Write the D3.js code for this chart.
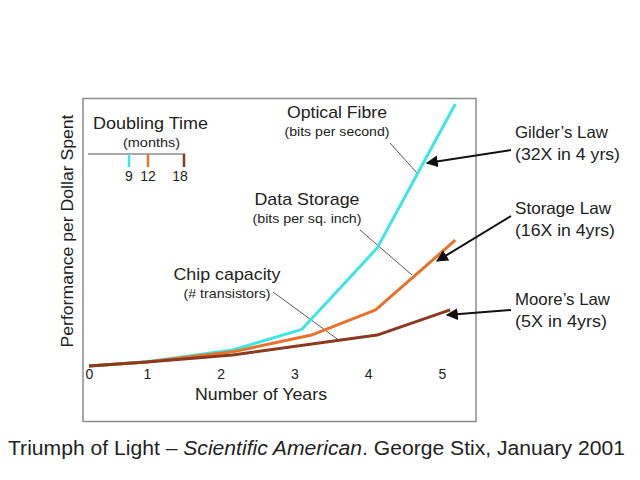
<!DOCTYPE html>
<html><head><meta charset="utf-8">
<script src="https://cdn.jsdelivr.net/npm/d3@7"></script>
<style>body{margin:0;background:#fff}svg{display:block}text{font-family:"Liberation Sans",Arial,sans-serif;fill:#222}</style>
</head><body><svg id="c" width="640" height="480"></svg>
<script>
// ---- data ----
const years = [0, 1, 2, 3, 4, 5];
const tickLabels = ["0", "1", "2", "3", "4", "5"];
const opticalX = [0, 1, 2.16, 3.1, 4.12, 5.18];
const opticalY = [0, 1.6, 6.1, 14, 45, 100];
const storageX = [0, 1, 2.16, 3.23, 4.1, 5.18];
const storageY = [0, 1.5, 5.4, 11.8, 21.4, 48];
const chipX = [0, 1, 2.16, 4.12, 5.11];
const chipY = [0, 1.5, 4.2, 11.8, 21.4];
const doublingMonths = [9, 12, 18];
const seriesNames = ["Optical Fibre", "Data Storage", "Chip capacity"];
const seriesUnits = ["(bits per second)", "(bits per sq. inch)", "(# transistors)"];
const lawNames = ["Gilder\u2019s Law", "Storage Law", "Moore\u2019s Law"];
const lawRates = ["(32X in 4 yrs)", "(16X in 4yrs)", "(5X in 4yrs)"];
const colors = ["#3de6e6", "#e8722a", "#8a3a1e"];

const svg = d3.select("#c");
const x = d3.scaleLinear().domain([0, 1, 5]).range([89, 147, 442]);
const y = d3.scaleLinear().domain([0, 100]).range([366, 104]);

function txt(xx, yy, s, size, len, anchor, fill) {
  const t = svg.append("text").attr("x", xx).attr("y", yy).attr("font-size", size)
    .attr("text-anchor", anchor || "start").text(s);
  if (len) t.attr("textLength", len).attr("lengthAdjust", "spacingAndGlyphs");
  if (fill) t.attr("fill", fill);
  return t;
}

// frame
svg.append("rect").attr("x", 83).attr("y", 98.5).attr("width", 393).attr("height", 323)
  .attr("fill", "none").attr("stroke", "#8c8c8c").attr("stroke-width", 1.5);

// x tick labels via axis
const ax = svg.append("g").attr("transform", "translate(0,366)")
  .call(d3.axisBottom(x).tickValues(years).tickFormat((d, i) => tickLabels[i]).tickSize(0).tickPadding(0));
ax.select(".domain").remove();
ax.selectAll("text").attr("font-size", 14).attr("fill", "#2a2a2a").attr("dy", "0.95em")
  .attr("font-family", "Liberation Sans, Arial, sans-serif");

txt(261, 400, "Number of Years", 17, 132, "middle");
svg.append("text").attr("transform", "translate(73,231) rotate(-90)").attr("text-anchor", "middle")
  .attr("font-size", 17).attr("textLength", 233).attr("lengthAdjust", "spacingAndGlyphs").text("Performance per Dollar Spent");

// leader lines for series labels
const leaders = [[390, 143, 417, 173], [360, 230, 412, 275], [273, 292, 340, 341]];
svg.selectAll(".leader").data(leaders).join("line")
  .attr("x1", d => d[0]).attr("y1", d => d[1]).attr("x2", d => d[2]).attr("y2", d => d[3])
  .attr("stroke", "#444").attr("stroke-width", 0.9);

// series lines
const series = [
  opticalX.map((v, i) => [v, opticalY[i]]),
  storageX.map((v, i) => [v, storageY[i]]),
  chipX.map((v, i) => [v, chipY[i]])
];
const line = d3.line().x(d => x(d[0])).y(d => y(d[1]));
[0, 1, 2].forEach(i => {
  svg.append("path").attr("d", line(series[i])).attr("fill", "none")
    .attr("stroke", colors[i]).attr("stroke-width", 3).attr("stroke-linejoin", "round");
});

// series labels
const labPos = [[337, 118], [307, 205], [227, 280]];
const nameLen = [100, 105, 107];
const unitLen = [105, 109, 87];
labPos.forEach((p, i) => {
  txt(p[0], p[1], seriesNames[i], 17, nameLen[i], "middle");
  txt(p[0], p[1] + 18, seriesUnits[i], 13, unitLen[i], "middle", "#333");
});

// doubling time legend
txt(150.5, 129, "Doubling Time", 17, 115, "middle");
txt(151.5, 147, "(months)", 13, 57, "middle", "#333");
const dScale = d3.scaleLinear().domain([9, 12, 18]).range([129, 148, 184]);
svg.append("line").attr("x1", 88).attr("x2", 185).attr("y1", 154).attr("y2", 154).attr("stroke", "#555").attr("stroke-width", 1);
doublingMonths.forEach((m, i) => {
  svg.append("line").attr("x1", dScale(m)).attr("x2", dScale(m)).attr("y1", 154).attr("y2", 167)
    .attr("stroke", colors[i]).attr("stroke-width", 2.5);
  txt(dScale(m) - (i === 2 ? 4 : 0), 181, String(m), 14, null, "middle");
});

// arrows
svg.append("defs").append("marker").attr("id", "ah").attr("viewBox", "0 0 10 10").attr("refX", 9).attr("refY", 5)
  .attr("markerWidth", 6).attr("markerHeight", 6).attr("orient", "auto")
  .append("path").attr("d", "M0,0 L10,5 L0,10 z").attr("fill", "#111");
const arrows = [[511, 150, 427, 163], [511, 216, 437, 261], [511, 310, 447, 315]];
arrows.forEach(a => {
  svg.append("line").attr("x1", a[0]).attr("y1", a[1]).attr("x2", a[2]).attr("y2", a[3])
    .attr("stroke", "#111").attr("stroke-width", 2).attr("marker-end", "url(#ah)");
});
const lawY = [138, 214, 305];
const lawNameLen = [93, 96, 95];
const lawRateLen = [105, 100, 92];
lawY.forEach((yy, i) => {
  txt(515, yy, lawNames[i], 16.5, lawNameLen[i]);
  txt(515, yy + 22, lawRates[i], 16.5, lawRateLen[i]);
});

// caption
const cap = svg.append("text").attr("x", 8).attr("y", 455).attr("font-size", 20.5)
  .attr("textLength", 617).attr("lengthAdjust", "spacingAndGlyphs");
cap.append("tspan").text("Triumph of Light \u2013 ");
cap.append("tspan").attr("font-style", "italic").text("Scientific American");
cap.append("tspan").text(". George Stix, January 2001");
</script></body></html>
